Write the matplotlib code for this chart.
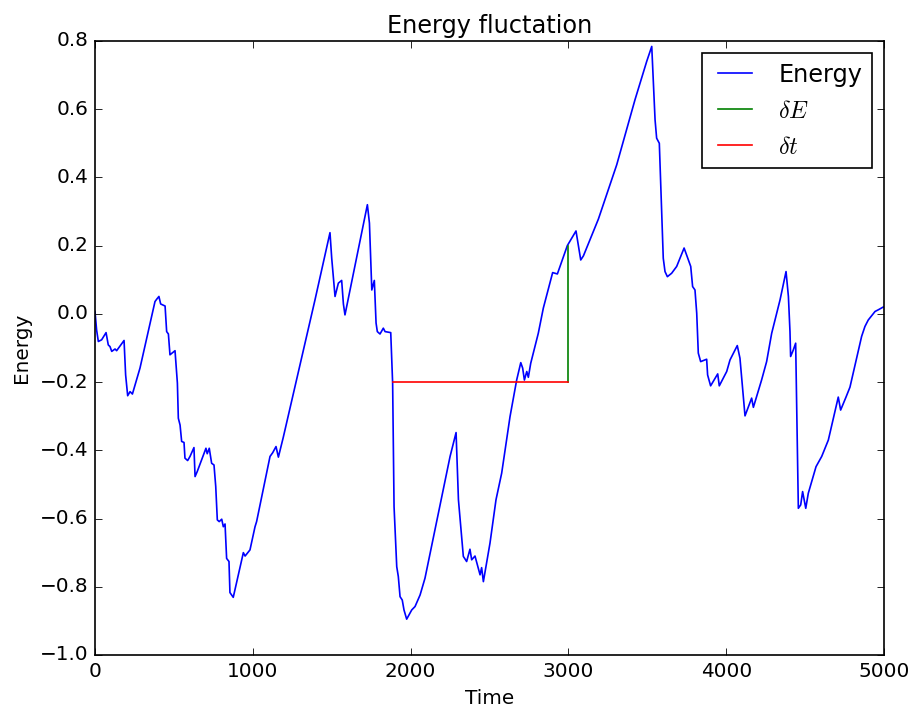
import numpy as np
import matplotlib
matplotlib.use('Agg')
import matplotlib.pyplot as plt

# energy trace (time, energy)
t = [0, 10, 21, 42, 70, 84, 95, 106, 127, 137, 184, 194, 207, 222, 237, 285, 380,
     391, 405, 416, 444, 454, 465, 475, 507, 522, 528, 539, 549, 564, 570, 587, 602,
     627, 634, 648, 703, 711, 724, 739, 754, 765, 775, 787, 803, 813, 824, 834, 849,
     855, 876, 940, 951, 982, 1014, 1024, 1109, 1126, 1147, 1162, 1193, 1394, 1489,
     1500, 1521, 1542, 1563, 1574, 1584, 1726, 1739, 1754, 1770, 1781, 1789, 1806,
     1827, 1838, 1874, 1886, 1895, 1912, 1922, 1933, 1947, 1958, 1975, 2007, 2028,
     2060, 2091, 2250, 2288, 2303, 2334, 2355, 2376, 2387, 2408, 2440, 2450, 2461,
     2503, 2541, 2577, 2630, 2672, 2698, 2710, 2721, 2736, 2746, 2761, 2809, 2841,
     2900, 2930, 2993, 3048, 3078, 3095, 3190, 3306, 3422, 3496, 3528, 3549, 3559,
     3576, 3601, 3612, 3627, 3654, 3686, 3733, 3775, 3787, 3802, 3813, 3823, 3838,
     3876, 3882, 3901, 3946, 3956, 4003, 4024, 4070, 4087, 4119, 4161, 4172, 4224,
     4256, 4288, 4341, 4379, 4394, 4404, 4408, 4425, 4440, 4457, 4472, 4484, 4504,
     4520, 4569, 4605, 4647, 4710, 4725, 4759, 4784, 4858, 4879, 4900, 4943, 4964,
     4995, 5000]
E = [0.007, -0.047, -0.081, -0.076, -0.055, -0.091, -0.096, -0.11, -0.103, -0.108,
     -0.078, -0.179, -0.24, -0.228, -0.235, -0.159, 0.036, 0.043, 0.051, 0.029, 0.023,
     -0.052, -0.059, -0.12, -0.108, -0.203, -0.306, -0.326, -0.374, -0.377, -0.423,
     -0.43, -0.418, -0.392, -0.477, -0.462, -0.394, -0.41, -0.394, -0.438, -0.443,
     -0.506, -0.604, -0.609, -0.602, -0.624, -0.616, -0.717, -0.726, -0.817, -0.831,
     -0.70, -0.71, -0.692, -0.624, -0.609, -0.418, -0.407, -0.389, -0.42, -0.362,
     0.041, 0.238, 0.163, 0.051, 0.09, 0.098, 0.029, -0.003, 0.32, 0.266, 0.07, 0.098,
     -0.027, -0.052, -0.059, -0.042, -0.052, -0.055, -0.203, -0.565, -0.741, -0.77,
     -0.829, -0.839, -0.868, -0.895, -0.868, -0.858, -0.824, -0.775, -0.418, -0.348,
     -0.545, -0.711, -0.726, -0.69, -0.721, -0.71, -0.765, -0.744, -0.785, -0.672,
     -0.545, -0.467, -0.301, -0.194, -0.143, -0.159, -0.194, -0.169, -0.186, -0.145,
     -0.057, 0.017, 0.121, 0.117, 0.2, 0.243, 0.158, 0.17, 0.278, 0.437, 0.628, 0.74,
     0.784, 0.569, 0.515, 0.5, 0.163, 0.124, 0.109, 0.119, 0.139, 0.193, 0.139, 0.08,
     0.07, 0.002, -0.115, -0.14, -0.133, -0.179, -0.211, -0.176, -0.211, -0.169,
     -0.135, -0.093, -0.13, -0.299, -0.247, -0.274, -0.194, -0.14, -0.057, 0.041,
     0.124, 0.051, -0.052, -0.125, -0.106, -0.086, -0.57, -0.56, -0.521, -0.57, -0.526,
     -0.448, -0.418, -0.37, -0.244, -0.282, -0.244, -0.215, -0.066, -0.037, -0.018,
     0.007, 0.012, 0.02, 0.02]

# fluctuation markers
dE_t = [3000, 3000]
dE_y = [-0.2, 0.2]
dt_t = [1890, 3000]
dt_y = [-0.2, -0.2]

plt.style.use('classic')
fig = plt.figure(figsize=(918/120, 710/120), dpi=120, facecolor='white')
ax = fig.add_axes([0.1035, 0.0775, 0.8595, 0.8648])

ax.plot(t, E, color='b', label='Energy')
ax.plot(dE_t, dE_y, color='g', label=r'$\delta E$')
ax.plot(dt_t, dt_y, color='r', label=r'$\delta t$')

ax.set_xlim(0, 5000)
ax.set_ylim(-1.0, 0.8)
ax.set_xlabel('Time')
ax.set_ylabel('Energy')
ax.set_title('Energy fluctation')
ax.legend(loc='upper right')

fig.savefig('out.png', dpi=120, facecolor='white')
